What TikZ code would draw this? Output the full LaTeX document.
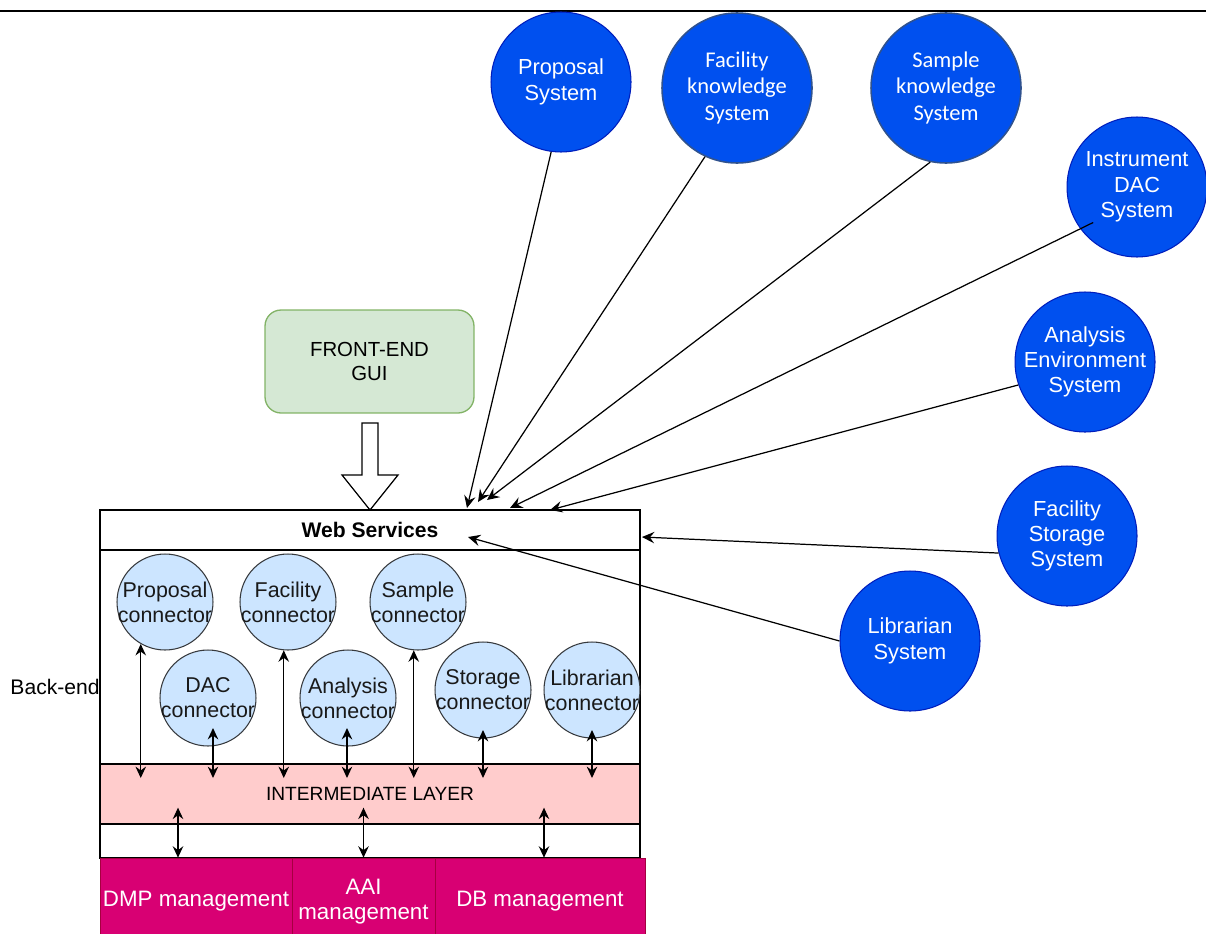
\documentclass[tikz,border=0pt]{standalone}
\usepackage{fontspec}
\setmainfont{Liberation Sans}
\newfontfamily\calibri{Carlito}
\usetikzlibrary{arrows.meta,calc,positioning}
\definecolor{sysblue}{HTML}{0050EF}
\definecolor{sysline}{HTML}{001DBC}
\definecolor{knowline}{HTML}{2F528F}
\definecolor{connfill}{HTML}{CCE5FF}
\definecolor{connline}{HTML}{36393D}
\definecolor{guifill}{HTML}{D5E8D4}
\definecolor{guiline}{HTML}{82B366}
\definecolor{layerfill}{HTML}{FFCCCC}
\definecolor{mgmtfill}{HTML}{D80073}
\definecolor{mgmtline}{HTML}{A50040}
\tikzset{
  sysnode/.style={circle,draw=sysline,fill=sysblue,minimum size=2.8cm,inner sep=0pt,line width=0.6pt},
  knownode/.style={sysnode,draw=knowline,minimum size=3cm,line width=0.9pt},
  systext/.style={text=white,align=center,font=\fontsize{12.4}{14.4}\selectfont},
  knowtext/.style={text=white,align=center,font=\calibri\fontsize{12.8}{15.3}\selectfont},
  connnode/.style={circle,draw=connline,fill=connfill,minimum size=1.92cm,inner sep=0pt,line width=0.6pt},
  conntext/.style={text=black!90,align=center,font=\fontsize{12.2}{14.2}\selectfont},
  layerbox/.style={rectangle,draw,line width=0.75pt,minimum width=10.8cm,inner sep=0pt},
  mgmtbox/.style={rectangle,draw=mgmtline,fill=mgmtfill,text=white,align=center,minimum height=1.74cm,inner sep=0pt,
    font=\fontsize{12.7}{14.2}\selectfont},
  sysarrow/.style={line width=0.7pt,-{Stealth[length=7pt,width=6.5pt,inset=2.5pt]}},
  dblarrow/.style={line width=0.7pt,{Stealth[length=6.5pt,width=6pt,inset=2.2pt]}-{Stealth[length=6.5pt,width=6pt,inset=2.2pt]}}
}
\begin{document}
\begin{tikzpicture}[x=0.02cm,y=-0.02cm]
\useasboundingbox (0,0) rectangle (1206,933);
\draw[line width=0.8pt] (0,11) -- (1206,11);
% external systems
\node[sysnode,label={[systext]center:Proposal\\System}] (propsys) at (561,82) {};
\node[knownode,label={[knowtext]center:Facility\\knowledge\\System}] (facksys) at (737,88) {};
\node[knownode,label={[knowtext]center:Sample\\knowledge\\System}] (sampsys) at (946,88) {};
\node[sysnode,label={[systext]center:Instrument\\DAC\\System}] (instsys) at (1137,187) {};
\node[sysnode,label={[systext]center:Analysis\\Environment\\System}] (anasys) at (1085,362) {};
\node[sysnode,label={[systext]center:Facility\\Storage\\System}] (storsys) at (1067,536) {};
\node[sysnode,label={[systext]center:Librarian\\System}] (libsys) at (910,641) {};
% front-end
\node[draw=guiline,fill=guifill,rounded corners=0.32cm,line width=0.75pt,minimum width=4.18cm,minimum height=2.06cm,
  align=center,font=\fontsize{11.6}{14.2}\selectfont] (gui) at (369.5,361.5) {FRONT-END\\GUI};
\draw[fill=white,line width=0.7pt] (362,423) -- (378,423) -- (378,475) -- (398,475) -- (370,510)
  -- (342,475) -- (362,475) -- cycle;
% back-end
\node[layerbox,minimum height=6.16cm] (core) at (370,704) {};
\node[layerbox,minimum height=0.8cm,font=\bfseries\fontsize{12}{14}\selectfont] (web) at (370,530) {Web Services};
\node[layerbox,fill=layerfill,minimum height=1.2cm,font=\fontsize{10.9}{13}\selectfont] (il) at (370,794) {INTERMEDIATE LAYER};
\node[font=\fontsize{12}{14}\selectfont] (belabel) at (55,687) {Back-end};
\node[mgmtbox,minimum width=3.84cm] (dmp) at (196,901.5) {DMP management};
\node[mgmtbox,minimum width=2.86cm] (aai) at (363.5,901.5) {AAI\\management};
\node[mgmtbox,minimum width=4.2cm] (db) at (540,901.5) {DB management};
% connectors
\node[connnode,label={[conntext]center:Proposal\\connector}] (pconn) at (165,602) {};
\node[connnode,label={[conntext]center:Facility\\connector}] (fconn) at (288,602) {};
\node[connnode,label={[conntext]center:Sample\\connector}] (sconn) at (418,602) {};
\node[connnode,label={[conntext]center:DAC\\connector}] (dconn) at (208,698) {};
\node[connnode,label={[conntext]center:Analysis\\connector}] (aconn) at (348,698) {};
\node[connnode,label={[conntext]center:Storage\\connector}] (stconn) at (483,690) {};
\node[connnode,label={[conntext]center:Librarian\\connector}] (lconn) at (592,690) {};
% connector links
\coordinate (ilrow) at (0,778);
\foreach \c/\a in {pconn/240,fconn/265,sconn/265}{
\draw[dblarrow] (\c.\a) -- (\c.\a |- ilrow);
}
\foreach \c/\dx/\dy/\len in {dconn/5/30/50,aconn/-1/30/50,stconn/0/40/48,lconn/0/40/48}{
\draw[dblarrow] ($(\c)+(\dx,\dy)$) -- ++(0,\len);
}
\foreach \b/\dx in {dmp/-18,aai/0,db/4}{
\draw[dblarrow] ($(\b.north)+(\dx,-50)$) -- ($(\b.north)+(\dx,0)$);
}
% system links
\coordinate (tprop) at (467,508);
\coordinate (tfack) at (478,502);
\coordinate (tsamp) at (487,500);
\coordinate (tinst) at (510,508);
\coordinate (tana) at (550,510);
\coordinate (tstor) at (642,537);
\coordinate (tlib) at (468,537);
\draw[sysarrow] (propsys.262) -- (tprop);
\draw[sysarrow] (facksys.245) -- (tfack);
\draw[sysarrow] (sampsys.258) -- (tsamp);
\draw[sysarrow] ($(instsys)!0.8!(instsys.219)$) -- (tinst);
\draw[sysarrow] (anasys.199) -- (tana);
\draw[sysarrow] (storsys.194) -- (tstor);
\draw[sysarrow] (libsys.west) -- (tlib);
\end{tikzpicture}
\end{document}
